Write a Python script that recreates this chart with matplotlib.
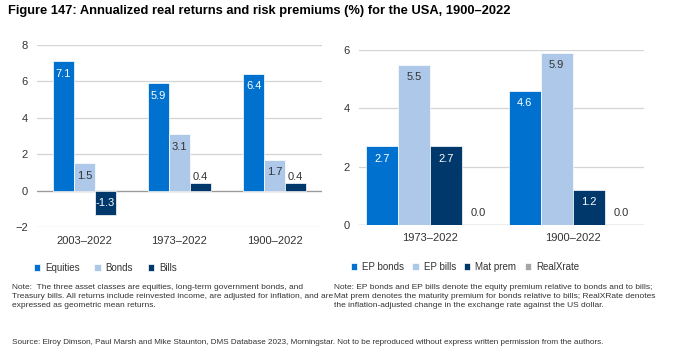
import matplotlib.pyplot as plt
import numpy as np

plt.rcParams['font.family'] = ['Liberation Sans', 'DejaVu Sans']

# left panel: real returns
periods_left = ['2003–2022', '1973–2022', '1900–2022']
equities = [7.1, 5.9, 6.4]
bonds = [1.5, 3.1, 1.7]
bills = [-1.3, 0.4, 0.4]

# right panel: risk premiums
periods_right = ['1973–2022', '1900–2022']
ep_bonds = [2.7, 4.6]
ep_bills = [5.5, 5.9]
mat_prem = [2.7, 1.2]
real_xrate = [0.0, 0.0]

C_EQ = '#0071CE'
C_BD = '#ADC8E8'
C_BL = '#00386B'
C_GR = '#A6A6A6'
TXT = '#333333'
GRID = '#D4D4D4'


def label_bars(ax, bars, vals, txtcolor):
    for b, v in zip(bars, vals):
        x = b.get_x() + b.get_width() / 2
        if abs(v) < 0.5:
            off = 5 if v > 0 else 8.5
            ax.annotate(f'{v:.1f}', (x, max(v, 0)), xytext=(0, off), textcoords='offset points',
                        ha='center', va='center', fontsize=8, color=TXT)
        else:
            ax.annotate(f'{v:.1f}', (x, max(v, 0)), xytext=(0, -9), textcoords='offset points',
                        ha='center', va='center', fontsize=8, color=txtcolor)


def style_axis(ax, ymin, ymax, step):
    ax.set_ylim(ymin, ymax)
    ax.set_yticks(np.arange(ymin, ymax + 0.1, step))
    ax.grid(axis='y', color=GRID, linewidth=0.9)
    ax.set_axisbelow(True)
    for s in ax.spines.values():
        s.set_visible(False)
    ax.tick_params(length=0, labelsize=8, colors=TXT)
    ax.tick_params(axis='y', pad=6.5)
    ax.tick_params(axis='x', pad=6)
    ax.axhline(0, color='#9A9A9A', linewidth=0.9, zorder=1.5)


fig = plt.figure(figsize=(6.95, 3.55), dpi=100)

# left chart
ax1 = fig.add_axes([0.0532, 0.3597, 0.4101, 0.5144])
x = np.arange(len(periods_left))
w = 0.22
b1 = ax1.bar(x - w, equities, w, color=C_EQ, edgecolor='white', linewidth=0.5, label='Equities', zorder=2)
b2 = ax1.bar(x, bonds, w, color=C_BD, edgecolor='white', linewidth=0.5, label='Bonds', zorder=2)
b3 = ax1.bar(x + w, bills, w, color=C_BL, edgecolor='white', linewidth=0.5, label='Bills', zorder=2)
label_bars(ax1, b1, equities, 'white')
label_bars(ax1, b2, bonds, TXT)
label_bars(ax1, b3, bills, 'white')
ax1.set_xlim(-0.5, 2.5)
ax1.set_xticks(x)
ax1.set_xticklabels(periods_left)
style_axis(ax1, -2, 8, 2)

# right chart
ax2 = fig.add_axes([0.5165, 0.3662, 0.4101, 0.4930])
x2 = np.arange(len(periods_right))
w2 = 0.225
c1 = ax2.bar(x2 - 1.5 * w2, ep_bonds, w2, color=C_EQ, edgecolor='white', linewidth=0.5, label='EP bonds', zorder=2)
c2 = ax2.bar(x2 - 0.5 * w2, ep_bills, w2, color=C_BD, edgecolor='white', linewidth=0.5, label='EP bills', zorder=2)
c3 = ax2.bar(x2 + 0.5 * w2, mat_prem, w2, color=C_BL, edgecolor='white', linewidth=0.5, label='Mat prem', zorder=2)
c4 = ax2.bar(x2 + 1.5 * w2, real_xrate, w2, color=C_GR, edgecolor='white', linewidth=0.5, label='RealXrate', zorder=2)
label_bars(ax2, c1, ep_bonds, 'white')
label_bars(ax2, c2, ep_bills, TXT)
label_bars(ax2, c3, mat_prem, 'white')
label_bars(ax2, c4, real_xrate, TXT)
ax2.set_xlim(-0.5, 1.5)
ax2.set_xticks(x2)
ax2.set_xticklabels(periods_right)
style_axis(ax2, 0, 6, 2)

# legends
leg_kw = dict(frameon=False, ncol=4, fontsize=7, handlelength=0.65, handleheight=0.65,
              handletextpad=0.5, labelcolor=TXT, borderaxespad=0, borderpad=0)
fig.legend(handles=[b1, b2, b3], loc='center left', bbox_to_anchor=(34 / 695, 1 - 268 / 355),
           columnspacing=1.5, **leg_kw)
fig.legend(handles=[c1, c2, c3, c4], loc='center left', bbox_to_anchor=(351 / 695, 1 - 267 / 355),
           columnspacing=0.85, **leg_kw)

# title
fig.text(8 / 695, 1 - 11 / 355, 'Figure 147: Annualized real returns and risk premiums (%) for the USA, 1900–2022',
         fontsize=9.25, fontweight='bold', color='black', va='center', ha='left')

note_kw = dict(fontsize=6.0, color=TXT, va='top', ha='left', linespacing=1.4)
fig.text(12 / 695, 1 - 284 / 355,
         'Note:  The three asset classes are equities, long-term government bonds, and\n'
         'Treasury bills. All returns include reinvested income, are adjusted for inflation, and are\n'
         'expressed as geometric mean returns.', **note_kw)
fig.text(334 / 695, 1 - 284 / 355,
         'Note: EP bonds and EP bills denote the equity premium relative to bonds and to bills;\n'
         'Mat prem denotes the maturity premium for bonds relative to bills; RealXRate denotes\n'
         'the inflation-adjusted change in the exchange rate against the US dollar.', **note_kw)
fig.text(12 / 695, 1 - 343 / 355,
         'Source: Elroy Dimson, Paul Marsh and Mike Staunton, DMS Database 2023, Morningstar. '
         'Not to be reproduced without express written permission from the authors.',
         fontsize=5.9, color=TXT, va='center', ha='left')

fig.savefig('out.png', dpi=100, facecolor='white')
